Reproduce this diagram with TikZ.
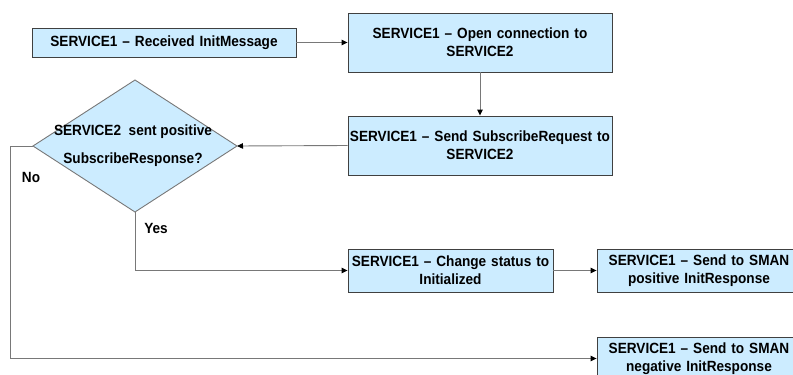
\documentclass[tikz,border=0pt]{standalone}
\usepackage{fontspec}
\setmainfont{Liberation Sans}[FakeStretch=0.92]
\usetikzlibrary{arrows.meta}
\definecolor{boxfill}{RGB}{204,236,255}
\definecolor{boxline}{RGB}{64,64,64}
\definecolor{wire}{RGB}{120,120,120}
\begin{document}
\begin{tikzpicture}[x=1pt,y=-1pt,
  box/.style={draw=boxline, fill=boxfill, line width=0.9pt, rectangle,
    inner sep=0pt, align=center,
    font=\fontsize{14.8}{18}\selectfont\bfseries},
  flow/.style={draw=wire, line width=0.9pt,
    -{Triangle[length=6pt,width=5.5pt,color=black]}},
  lbl/.style={font=\fontsize{14.8}{16}\selectfont\bfseries}]
\useasboundingbox (0,0) rectangle (793,375);
\clip (0,0) rectangle (793,375);

% process boxes
\node[box, text width=264pt, minimum height=29pt] (recv) at (164,42.5)
  {SERVICE1 -- Received InitMessage};
\node[box, text width=264pt, minimum height=59pt] (open) at (480,42.5)
  {SERVICE1 -- Open connection to\\SERVICE2};
\node[box, text width=264pt, minimum height=59pt] (subs) at (480,145.5)
  {SERVICE1 -- Send SubscribeRequest to\\SERVICE2};
\node[box, text width=205pt, minimum height=43pt] (stat) at (450.5,270.5)
  {SERVICE1 -- Change status to\\Initialized};
\node[box, text width=204pt, minimum height=43pt] (pos) at (699,270.5)
  {SERVICE1 -- Send to SMAN\\positive InitResponse};
\node[box, text width=204pt, minimum height=43pt] (neg) at (699,358.5)
  {SERVICE1 -- Send to SMAN\\negative InitResponse};

% decision diamond
\coordinate (dT) at (135,80);
\coordinate (dR) at (237,146);
\coordinate (dB) at (135,212);
\coordinate (dL) at (33,146);
\filldraw[fill=boxfill, draw=wire, line width=0.9pt] (dT) -- (dR) -- (dB) -- (dL) -- cycle;
\node[align=center, font=\fontsize{14.8}{28}\selectfont\bfseries] (dtext) at (133,146)
  {SERVICE2\ \ sent positive\\SubscribeResponse?};

% connectors
\draw[flow] (recv.east) -- (open.west);
\draw[flow] (open.south) -- (subs.north);
\draw[flow] (subs.west) -- (dR);
\draw[flow] (dB) |- (stat.west);
\draw[flow] (stat.east) -- (pos.west);
\coordinate (noturn) at (10,146);
\draw[flow] (dL) -- (noturn) |- (neg.west);

% branch labels
\node[lbl] (nolbl) at (31,177) {No};
\node[lbl] (yeslbl) at (156,228) {Yes};
\end{tikzpicture}
\end{document}
